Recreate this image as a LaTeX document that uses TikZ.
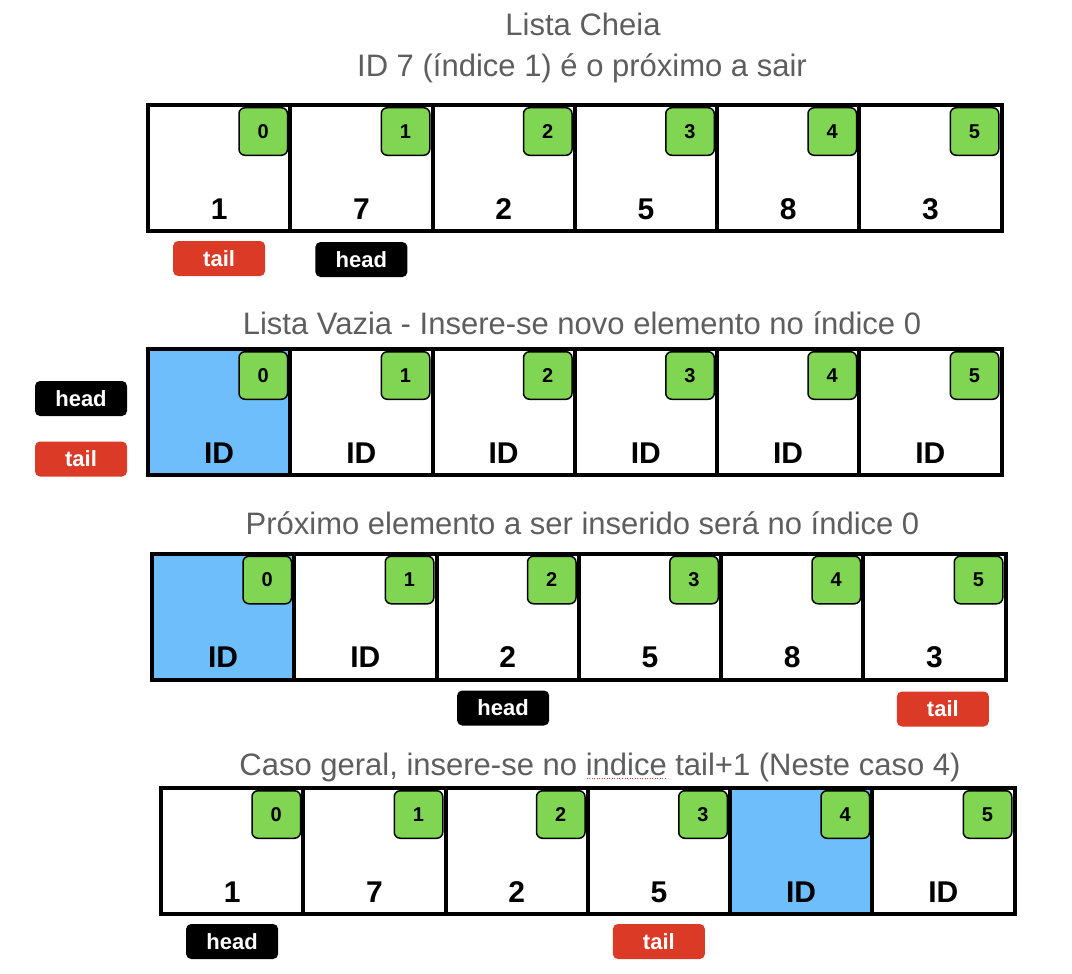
\documentclass[tikz,border=0pt]{standalone}
\usepackage{fontspec}
\setmainfont{Liberation Sans}
\usetikzlibrary{positioning}
\definecolor{cellblue}{HTML}{6DBEFA}
\definecolor{badgegreen}{HTML}{80D552}
\definecolor{tagred}{HTML}{DB3A27}
\definecolor{titlegray}{HTML}{5E5E5E}
\definecolor{spellred}{HTML}{E0403A}
\newcommand{\spellword}[1]{\setbox0\hbox{#1}\rlap{\raisebox{-4pt}{\textcolor{spellred}{\xleaders\hbox to 2.5pt{\hss\rule{1pt}{1pt}\hss}\hskip\wd0}}}\box0\relax}

\begin{document}
\begin{tikzpicture}[x=1pt, y=-1pt,
    cell/.style={draw, line width=4pt, minimum width=142.25pt, minimum height=126pt,
        inner sep=0pt, outer sep=0pt, anchor=north west},
    badge/.style={draw, line width=1.5pt, fill=badgegreen, rounded corners=6pt,
        minimum width=48.5pt, minimum height=47.5pt, inner sep=0pt, outer sep=0pt,
        anchor=north east, font=\fontsize{20}{24}\selectfont\bfseries},
    val/.style={anchor=base, font=\fontsize{30}{36}\selectfont\bfseries},
    tag/.style={rounded corners=5pt, minimum width=92pt, minimum height=35pt,
        inner sep=0pt, outer sep=0pt, text=white, font=\fontsize{22}{26}\selectfont\bfseries},
    title/.style={anchor=base, text=titlegray, font=\fontsize{31}{37}\selectfont}]
    \useasboundingbox[fill=white] (0,0) rectangle (1072,974);

    % Lista Cheia
    \node[title] (title1a) at (583,36) {Lista Cheia};
    \node[title] (title1b) at (582,77) {ID 7 (índice 1) é o próximo a sair};
    \foreach \i/\v/\c in {0/1/white,1/7/white,2/2/white,3/5/white,4/8/white,5/3/white} {
        \node[cell, fill=\c] (r1c\i) at (148+142.25*\i,105) {};
        \node[badge] at ([xshift=-2.75pt,yshift=-2.75pt]r1c\i.north east) {\i};
        \node[val] at ([yshift=12pt]r1c\i.south) {\v};
    }
    \node[tag, fill=tagred, below=10pt of r1c0] (tail1) {tail};
    \node[tag, fill=black, below=11pt of r1c1] (head1) {head};

    % Lista Vazia
    \node[title] (title2) at (582,334) {Lista Vazia - Insere-se novo elemento no índice 0};
    \foreach \i/\v/\c in {0/ID/cellblue,1/ID/white,2/ID/white,3/ID/white,4/ID/white,5/ID/white} {
        \node[cell, fill=\c] (r2c\i) at (148+142.25*\i,349) {};
        \node[badge] at ([xshift=-2.75pt,yshift=-2.75pt]r2c\i.north east) {\i};
        \node[val] at ([yshift=12pt]r2c\i.south) {\v};
    }
    \node[tag, fill=black] (head2) at (81,398.5) {head};
    \node[tag, fill=tagred] (tail2) at (81,459) {tail};

    % Proximo elemento
    \node[title] (title3) at (582.5,534) {Próximo elemento a ser inserido será no índice 0};
    \foreach \i/\v/\c in {0/ID/cellblue,1/ID/white,2/2/white,3/5/white,4/8/white,5/3/white} {
        \node[cell, fill=\c] (r3c\i) at (152+142.25*\i,553.5) {};
        \node[badge] at ([xshift=-2.75pt,yshift=-2.75pt]r3c\i.north east) {\i};
        \node[val] at ([yshift=12pt]r3c\i.south) {\v};
    }
    \node[tag, fill=black, below=11pt of r3c2, xshift=-4.5pt] (head3) {head};
    \node[tag, fill=tagred, below=12pt of r3c5, xshift=8.5pt] (tail3) {tail};

    % Caso geral
    \node[title] (title4) at (600,775) {Caso geral, insere-se no \spellword{indice} tail+1 (Neste caso 4)};
    \foreach \i/\v/\c in {0/1/white,1/7/white,2/2/white,3/5/white,4/ID/cellblue,5/ID/white} {
        \node[cell, fill=\c] (r4c\i) at (161+142.25*\i,788) {};
        \node[badge] at ([xshift=-2.75pt,yshift=-2.75pt]r4c\i.north east) {\i};
        \node[val] at ([yshift=12pt]r4c\i.south) {\v};
    }
    \node[tag, fill=black, below=10pt of r4c0] (head4) {head};
    \node[tag, fill=tagred, below=10pt of r4c3] (tail4) {tail};
\end{tikzpicture}
\end{document}
